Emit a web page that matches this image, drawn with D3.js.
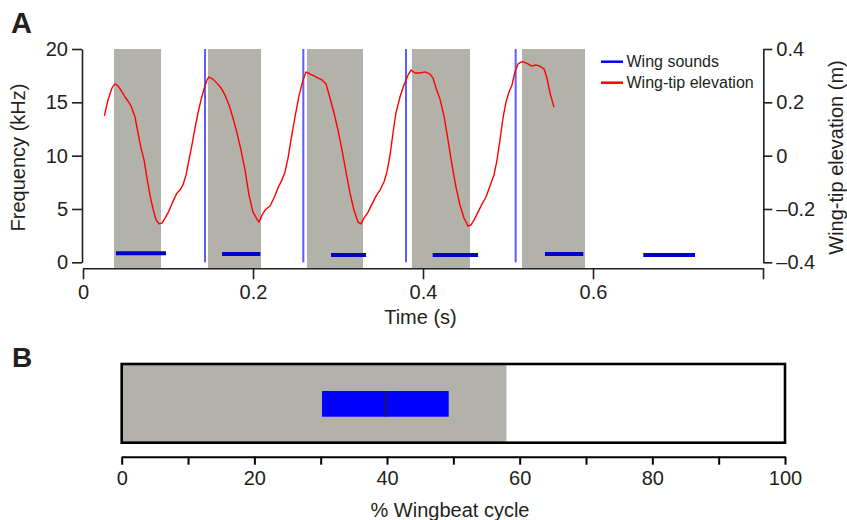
<!DOCTYPE html>
<html>
<head>
<meta charset="utf-8">
<script src="https://cdn.jsdelivr.net/npm/d3@7"></script>
<style>
  body { margin: 0; background: #fff; }
  text { font-family: "Liberation Sans", Arial, sans-serif; fill: #231f20; }
</style>
</head>
<body>
<div id="chart"></div>
<script>
// --- data (panel A) ---
// downstroke periods (s)
var downStart = [0.0365, 0.147, 0.2635, 0.387, 0.5165];
var downEnd   = [0.0918, 0.2094, 0.3294, 0.4553, 0.5906];
// wing sound clicks (s)
var clickTimes = [0.1435, 0.2592, 0.380, 0.509];
// wing sound bars: start, end (s) and frequency (kHz)
var barStart = [0.0388, 0.1635, 0.2918, 0.4114, 0.5435, 0.6592];
var barEnd   = [0.0976, 0.2086, 0.3329, 0.4647, 0.5886, 0.7200];
var barFreq  = [0.84, 0.78, 0.68, 0.68, 0.78, 0.68];
// wing-tip elevation trace: time (s), elevation (m)
var elevTime = [0.0251, 0.0294, 0.0341, 0.0376, 0.0412, 0.0459, 0.0494, 0.0529, 0.0565, 0.0612,
  0.0647, 0.0682, 0.0718, 0.0753, 0.0788, 0.0824, 0.0859, 0.0894, 0.0929, 0.0965,
  0.1000, 0.1035, 0.1071, 0.1106, 0.1141, 0.1176, 0.1212, 0.1247, 0.1282, 0.1318,
  0.1353, 0.1388, 0.1424, 0.1459, 0.1482, 0.1529, 0.1576, 0.1624, 0.1671, 0.1718,
  0.1765, 0.1812, 0.1859, 0.1906, 0.1953, 0.2000, 0.2047, 0.2071, 0.2106, 0.2141,
  0.2200, 0.2247, 0.2294, 0.2341, 0.2376, 0.2412, 0.2447, 0.2494, 0.2541, 0.2588,
  0.2624, 0.2671, 0.2718, 0.2765, 0.2812, 0.2859, 0.2906, 0.2953, 0.3000, 0.3047,
  0.3094, 0.3141, 0.3188, 0.3235, 0.3271, 0.3306, 0.3353, 0.3400, 0.3447, 0.3494,
  0.3541, 0.3576, 0.3612, 0.3647, 0.3682, 0.3729, 0.3776, 0.3824, 0.3859, 0.3906,
  0.3965, 0.4024, 0.4082, 0.4118, 0.4153, 0.4200, 0.4247, 0.4294, 0.4341, 0.4388,
  0.4435, 0.4482, 0.4529, 0.4565, 0.4600, 0.4647, 0.4694, 0.4741, 0.4788, 0.4835,
  0.4871, 0.4906, 0.4941, 0.4976, 0.5012, 0.5047, 0.5082, 0.5118, 0.5153, 0.5188,
  0.5235, 0.5282, 0.5329, 0.5376, 0.5424, 0.5459, 0.5494, 0.5541];
var elevValue = [0.149, 0.209, 0.254, 0.269, 0.262, 0.239, 0.220, 0.205, 0.186, 0.145,
  0.085, 0.029, -0.016, -0.084, -0.148, -0.200, -0.241, -0.256, -0.253, -0.234,
  -0.215, -0.189, -0.163, -0.140, -0.129, -0.110, -0.073, -0.016, 0.040, 0.104,
  0.160, 0.209, 0.250, 0.284, 0.295, 0.287, 0.272, 0.254, 0.227, 0.190,
  0.141, 0.085, 0.021, -0.054, -0.148, -0.212, -0.238, -0.249, -0.223, -0.204,
  -0.189, -0.159, -0.121, -0.091, -0.061, -0.009, 0.059, 0.145, 0.224, 0.284,
  0.314, 0.306, 0.299, 0.291, 0.284, 0.269, 0.216, 0.160, 0.096, 0.021,
  -0.061, -0.140, -0.204, -0.249, -0.256, -0.234, -0.212, -0.182, -0.152, -0.129,
  -0.099, -0.061, 0.002, 0.085, 0.160, 0.220, 0.265, 0.302, 0.321, 0.310,
  0.310, 0.314, 0.306, 0.291, 0.254, 0.212, 0.149, 0.059, -0.035, -0.118,
  -0.185, -0.234, -0.264, -0.260, -0.242, -0.212, -0.182, -0.155, -0.114, -0.073,
  -0.016, 0.059, 0.141, 0.201, 0.239, 0.265, 0.314, 0.344, 0.351, 0.351,
  0.344, 0.336, 0.340, 0.336, 0.325, 0.291, 0.235, 0.182];
var timeTicks = [0, 0.2, 0.4, 0.6, 0.8];
var timeTickLabels = ["0", "0.2", "0.4", "0.6", ""];
var freqTicks = [0, 5, 10, 15, 20];
var elevTicks = [-0.4, -0.2, 0, 0.2, 0.4];
var elevTickLabels = ["\u20130.4", "\u20130.2", "0", "0.2", "0.4"];

// --- data (panel B) ---
var cycleTicks = [0, 10, 20, 30, 40, 50, 60, 70, 80, 90, 100];
var cycleTickLabels = ["0", "", "20", "", "40", "", "60", "", "80", "", "100"];
var downstrokeEnd = 58.0;
var soundQ1 = 30.2, soundMedian = 39.8, soundQ3 = 49.3;

var width = 847, height = 520;
var gray = "#b2b1aa";
var ink = "#231f20";

var svg = d3.select("#chart").append("svg")
  .attr("width", width)
  .attr("height", height);

// ---------------- panel A ----------------
var x = d3.scaleLinear().domain([0, 0.8]).range([83, 763]);
var yF = d3.scaleLinear().domain([0, 20]).range([262.3, 49]);
var yE = d3.scaleLinear().domain([-0.4, 0.4]).range([262.3, 49]);
var xAxisY = 268.3;

// downstroke shading
svg.append("g")
  .selectAll("rect")
  .data(downStart)
  .join("rect")
  .attr("x", d => x(d))
  .attr("width", (d, i) => x(downEnd[i]) - x(d))
  .attr("y", yF(20))
  .attr("height", xAxisY - yF(20))
  .attr("fill", gray);

// click lines
svg.append("g")
  .selectAll("line")
  .data(clickTimes)
  .join("line")
  .attr("x1", d => x(d)).attr("x2", d => x(d))
  .attr("y1", yF(20)).attr("y2", yF(0))
  .attr("stroke", "#5c5cff")
  .attr("stroke-width", 2);

// wing sound bars
svg.append("g")
  .selectAll("line")
  .data(barStart)
  .join("line")
  .attr("x1", d => x(d))
  .attr("x2", (d, i) => x(barEnd[i]))
  .attr("y1", (d, i) => yF(barFreq[i]))
  .attr("y2", (d, i) => yF(barFreq[i]))
  .attr("stroke", "#0000cc")
  .attr("stroke-width", 4);

// elevation trace
var line = d3.line()
  .x((d, i) => x(elevTime[i]))
  .y(d => yE(d));
svg.append("path")
  .datum(elevValue)
  .attr("d", line)
  .attr("fill", "none")
  .attr("stroke", "#ff0000")
  .attr("stroke-width", 1.4)
  .attr("stroke-linejoin", "round");

// axes
function styleAxis(g) {
  g.select(".domain").attr("stroke", ink).attr("stroke-width", 1.6);
  g.selectAll(".tick line").attr("stroke", ink).attr("stroke-width", 1.6);
  g.selectAll(".tick text").style("font-size", "20px").attr("fill", ink);
}

svg.append("g")
  .attr("transform", "translate(0," + xAxisY + ")")
  .call(d3.axisBottom(x).tickValues(timeTicks)
    .tickFormat((d, i) => timeTickLabels[i]).tickSize(11).tickSizeOuter(0).tickPadding(6))
  .call(styleAxis);

svg.append("g")
  .attr("transform", "translate(82,0)")
  .call(d3.axisLeft(yF).tickValues(freqTicks).tickSize(10).tickSizeOuter(0).tickPadding(4))
  .call(styleAxis);

svg.append("g")
  .attr("transform", "translate(763.3,0)")
  .call(d3.axisRight(yE).tickValues(elevTicks)
    .tickFormat((d, i) => elevTickLabels[i]).tickSize(9).tickSizeOuter(0).tickPadding(4))
  .call(styleAxis);

svg.append("text")
  .attr("transform", "translate(25,157.5) rotate(-90)")
  .attr("text-anchor", "middle")
  .style("font-size", "20px")
  .text("Frequency (kHz)");

svg.append("text")
  .attr("transform", "translate(843,157.5) rotate(-90)")
  .attr("text-anchor", "middle")
  .style("font-size", "20px")
  .text("Wing-tip elevation (m)");

svg.append("text")
  .attr("x", 420.5).attr("y", 324)
  .attr("text-anchor", "middle")
  .style("font-size", "20px")
  .text("Time (s)");

// legend
var legendNames = ["Wing sounds", "Wing-tip elevation"];
var legendColors = ["#0000ff", "#ff0000"];
var legend = svg.append("g")
  .selectAll("g")
  .data(legendNames)
  .join("g")
  .attr("transform", (d, i) => "translate(601," + (61.7 + i * 21) + ")");
legend.append("line")
  .attr("x1", 0).attr("x2", 22)
  .attr("stroke", (d, i) => legendColors[i])
  .attr("stroke-width", 2.5);
legend.append("text")
  .attr("x", 25.5).attr("dy", "0.35em")
  .style("font-size", "16px")
  .text(d => d);

// panel letters
svg.append("text").attr("x", 11).attr("y", 33)
  .style("font-size", "29px").style("font-weight", "bold").text("A");
svg.append("text").attr("x", 12).attr("y", 366.5)
  .style("font-size", "28px").style("font-weight", "bold").text("B");

// ---------------- panel B ----------------
var xc = d3.scaleLinear().domain([0, 100]).range([121.7, 785]);
var boxTop = 364, boxBottom = 442.7;

svg.append("rect")
  .attr("x", xc(0)).attr("y", boxTop)
  .attr("width", xc(downstrokeEnd) - xc(0))
  .attr("height", boxBottom - boxTop)
  .attr("fill", gray);

svg.append("rect")
  .attr("x", xc(soundQ1)).attr("y", 391)
  .attr("width", xc(soundQ3) - xc(soundQ1))
  .attr("height", 25.7)
  .attr("fill", "#0000ff");

svg.append("line")
  .attr("x1", xc(soundMedian)).attr("x2", xc(soundMedian))
  .attr("y1", 391).attr("y2", 416.7)
  .attr("stroke", ink).attr("stroke-width", 1.5);

svg.append("rect")
  .attr("x", xc(0)).attr("y", boxTop)
  .attr("width", xc(100) - xc(0))
  .attr("height", boxBottom - boxTop)
  .attr("fill", "none")
  .attr("stroke", "#000")
  .attr("stroke-width", 2.6);

svg.append("g")
  .attr("transform", "translate(0,456.7)")
  .call(d3.axisBottom(xc).tickValues(cycleTicks)
    .tickFormat((d, i) => cycleTickLabels[i]).tickSize(8).tickSizeOuter(0).tickPadding(6))
  .call(g => {
    g.select(".domain").attr("stroke", "#000").attr("stroke-width", 2);
    g.selectAll(".tick line").attr("stroke", "#000").attr("stroke-width", 2);
    g.selectAll(".tick text").style("font-size", "20px").attr("fill", ink);
  });

svg.append("text")
  .attr("x", 450).attr("y", 517)
  .attr("text-anchor", "middle")
  .style("font-size", "20px")
  .text("% Wingbeat cycle");
</script>
</body>
</html>
